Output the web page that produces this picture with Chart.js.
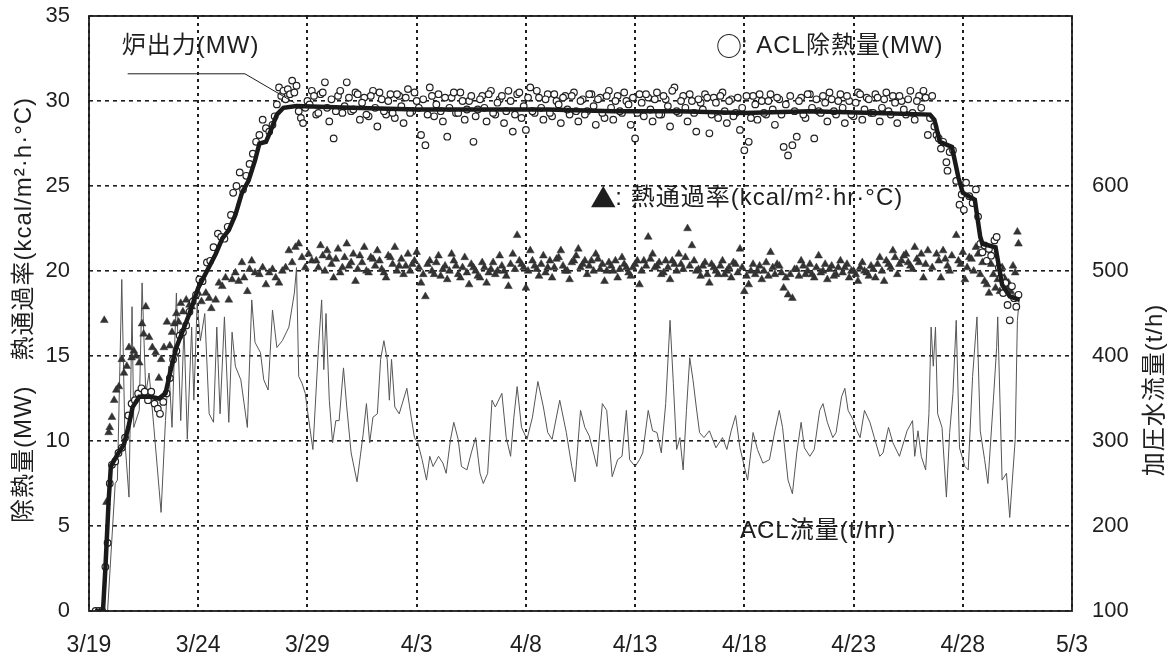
<!DOCTYPE html>
<html>
<head>
<meta charset="utf-8">
<script src="https://cdn.jsdelivr.net/npm/chart.js@4.4.1/dist/chart.umd.min.js"></script>
<style>
  html, body { margin: 0; background: #fff; }
</style>
</head>
<body>
<canvas id="chart" width="1175" height="662"></canvas>
<script>
// x = days since 3/19
const dateLabels = ['3/19', '3/24', '3/29', '4/3', '4/8', '4/13', '4/18', '4/23', '4/28', '5/3'];
const flowTickLabels = [100, 200, 300, 400, 500, 600];

// 炉出力 (MW)
const reactorPower = [
  [0.3, 0], [0.64, 0], [0.75, 2.5], [0.9, 6.5], [1.0, 8.5], [1.3, 9.2], [1.6, 9.8], [1.8, 10.8],
  [2.0, 12.0], [2.3, 12.6], [2.8, 12.6], [3.2, 12.5], [3.5, 12.8], [3.8, 14.5], [4.0, 15.5],
  [4.3, 16.5], [4.6, 17.5], [5.0, 19.0], [5.4, 20.0], [5.8, 21.0], [6.1, 21.9], [6.4, 22.4],
  [6.7, 23.3], [7.0, 24.6], [7.3, 25.3], [7.6, 26.5], [7.8, 27.5], [8.1, 27.6], [8.3, 28.2],
  [8.6, 29.2], [8.9, 29.6], [9.5, 29.7], [12, 29.6], [15, 29.5], [18, 29.5], [21, 29.5],
  [24, 29.4], [27, 29.4], [30, 29.3], [33, 29.4], [36, 29.3], [38.5, 29.2], [38.7, 28.9],
  [38.95, 27.6], [39.5, 27.3], [39.8, 25.5], [40.0, 24.6], [40.55, 24.2], [40.8, 22.0],
  [40.9, 21.6], [41.5, 21.4], [41.8, 19.2], [42.15, 18.5], [42.6, 18.3]
];

// ACL除熱量 (MW)
const aclHeat = [
  [0.3, 0], [0.45, 0], [0.6, 0], [0.75, 2.6], [0.85, 4.0], [0.95, 7.5], [1.05, 8.6], [1.2, 8.8],
  [1.35, 9.3], [1.5, 9.6], [1.65, 10.2], [1.8, 11.5], [1.95, 12.2], [2.1, 12.4], [2.25, 12.8],
  [2.4, 13.1], [2.55, 12.9], [2.7, 12.4], [2.85, 12.9], [3.0, 12.2], [3.15, 11.9], [3.25, 11.6],
  [3.4, 12.3], [3.55, 12.8], [3.7, 13.7], [3.85, 14.8], [4.0, 15.3], [4.15, 16.2], [4.3, 16.4],
  [4.45, 16.8], [4.6, 17.6], [4.75, 18.2], [4.9, 18.6], [5.05, 19.5], [5.2, 19.4], [5.4, 20.5],
  [5.55, 20.6], [5.7, 21.4], [5.9, 22.2], [6.05, 22.0], [6.2, 21.9], [6.35, 22.6], [6.5, 23.3],
  [6.6, 24.6], [6.75, 25.0], [6.9, 25.8], [7.05, 24.8], [7.2, 25.6], [7.35, 26.3], [7.5, 26.9],
  [7.65, 27.6], [7.8, 28.0], [7.95, 28.9], [8.1, 28.4], [8.25, 28.2], [8.4, 28.6], [8.5, 29.1],
  [8.6, 29.8], [8.7, 30.8], [8.8, 30.3], [8.9, 30.6], [9.0, 30.1], [9.1, 30.7], [9.2, 30.4],
  [9.3, 31.2], [9.4, 30.5], [9.5, 30.9], [9.6, 29.4], [9.7, 29.0], [9.8, 28.7], [9.9, 29.6],
  [10.0, 30.0], [10.2, 30.6], [10.4, 29.2], [10.6, 30.4], [10.8, 31.1], [11.0, 28.8], [11.2, 27.8], [11.4, 30.3], [11.6, 29.3], [11.8, 31.1],
  [12.0, 29.4], [12.2, 30.5], [12.4, 28.9], [12.6, 30.2], [12.8, 29.1], [13.0, 30.6], [13.2, 28.5], [13.4, 30.1], [13.6, 29.2], [13.8, 30.4],
  [14.0, 29.0], [14.2, 30.3], [14.4, 28.7], [14.6, 30.7], [14.8, 29.4], [15.0, 30.0], [15.2, 28.0], [15.4, 27.4], [15.6, 30.8], [15.8, 29.1],
  [16.0, 30.4], [16.2, 28.8], [16.4, 27.9], [16.6, 30.2], [16.8, 29.3], [17.0, 30.5], [17.2, 28.9], [17.4, 30.0], [17.6, 27.6], [17.8, 29.5],
  [18.0, 30.3], [18.2, 28.8], [18.4, 30.6], [18.6, 29.2], [18.8, 30.1], [19.0, 28.7], [19.2, 30.6], [19.4, 28.2], [19.6, 30.4], [19.8, 29.0],
  [20.0, 28.3], [20.2, 30.8], [20.4, 29.3], [20.6, 30.2], [20.8, 28.9], [21.0, 30.4], [21.2, 29.1], [21.4, 30.0], [21.6, 28.7], [21.8, 30.3],
  [22.0, 29.2], [22.2, 30.5], [22.4, 28.8], [22.6, 30.1], [22.8, 29.4], [23.0, 30.4], [23.2, 28.6], [23.4, 30.2], [23.6, 29.0], [23.8, 30.6],
  [24.0, 28.9], [24.2, 30.3], [24.4, 29.3], [24.6, 30.0], [24.8, 28.6], [25.0, 27.8], [25.2, 30.4], [25.4, 29.1], [25.6, 30.2], [25.8, 28.8],
  [26.0, 30.5], [26.2, 29.2], [26.4, 30.1], [26.6, 28.5], [26.8, 30.8], [27.0, 29.3], [27.2, 30.3], [27.4, 28.8], [27.6, 30.0], [27.8, 28.2],
  [28.0, 29.9], [28.2, 30.4], [28.4, 28.1], [28.6, 30.2], [28.8, 29.0], [29.0, 30.5], [29.2, 28.7], [29.4, 30.1], [29.6, 29.3], [29.8, 28.3],
  [30.0, 27.1], [30.2, 27.6], [30.4, 30.3], [30.6, 28.9], [30.8, 30.0], [31.0, 29.2], [31.2, 30.4], [31.4, 28.6], [31.6, 30.1], [31.8, 27.3],
  [32.0, 26.8], [32.2, 27.4], [32.4, 27.9], [32.6, 30.2], [32.8, 29.0], [33.0, 30.4], [33.2, 27.8], [33.4, 29.4], [33.6, 30.3], [33.8, 28.8],
  [34.0, 30.1], [34.2, 29.2], [34.4, 30.4], [34.6, 28.7], [34.8, 30.0], [35.0, 29.1], [35.2, 30.5], [35.4, 28.9], [35.6, 30.2], [35.8, 29.3],
  [36.0, 30.4], [36.2, 28.8], [36.4, 30.1], [36.6, 29.4], [36.8, 30.3], [37.0, 28.7], [37.2, 30.0], [37.4, 29.2], [37.6, 30.6], [37.8, 28.9],
  [38.0, 30.3], [38.2, 30.6], [38.4, 28.0], [38.5, 29.0], [38.6, 30.3], [38.7, 28.5], [38.8, 28.0], [38.9, 27.8], [39.0, 27.2],
  [39.1, 27.6], [39.25, 26.4], [39.3, 25.9], [39.4, 27.0], [39.55, 27.1], [39.7, 25.3], [39.85, 23.9], [39.95, 24.5],
  [40.05, 23.6], [40.15, 25.2], [40.3, 24.4], [40.45, 24.0], [40.6, 24.8], [40.7, 23.2], [40.8, 21.6], [40.9, 21.1],
  [41.0, 21.5], [41.1, 20.6], [41.2, 21.3], [41.3, 20.9], [41.45, 21.8], [41.55, 22.0], [41.65, 20.2], [41.75, 19.6],
  [41.85, 18.7], [41.95, 19.3], [42.05, 18.0], [42.15, 17.1], [42.25, 19.1], [42.35, 18.4], [42.45, 17.9], [42.55, 18.6],
  // points lying close to the 炉出力 line
  [10.1, 29.8], [10.3, 30.3], [10.5, 29.3], [10.7, 30.5], [10.9, 29.6], [11.1, 30.1], [11.3, 29.4], [11.5, 30.6], [11.7, 29.7], [11.9, 30.2],
  [12.1, 29.5], [12.3, 30.4], [12.5, 29.9], [12.7, 29.2], [12.9, 30.3], [13.1, 29.6], [13.3, 30.5], [13.5, 29.4], [13.7, 30.0], [13.9, 29.3],
  [14.1, 30.4], [14.3, 29.7], [14.5, 30.2], [14.7, 29.3], [14.9, 30.5], [15.1, 29.6], [15.3, 30.1], [15.5, 29.2], [15.7, 30.3], [15.9, 29.8],
  [16.1, 29.4], [16.3, 30.2], [16.5, 29.6], [16.7, 30.5], [16.9, 29.3], [17.1, 30.0], [17.3, 29.5], [17.5, 30.3], [17.7, 29.1], [17.9, 30.1],
  [18.1, 29.6], [18.3, 30.4], [18.5, 29.3], [18.7, 29.9], [18.9, 30.3], [19.1, 29.4], [19.3, 30.0], [19.5, 29.2], [19.7, 30.5], [19.9, 29.7],
  [20.1, 30.2], [20.3, 29.4], [20.5, 30.6], [20.7, 29.6], [20.9, 30.1], [21.1, 29.3], [21.3, 30.4], [21.5, 29.8], [21.7, 30.2], [21.9, 29.5],
  [22.1, 30.3], [22.3, 29.4], [22.5, 30.0], [22.7, 29.2], [22.9, 30.4], [23.1, 29.7], [23.3, 30.1], [23.5, 29.3], [23.7, 30.3], [23.9, 29.6],
  [24.1, 30.0], [24.3, 29.4], [24.5, 30.5], [24.7, 29.8], [24.9, 30.2], [25.1, 29.3], [25.3, 29.9], [25.5, 30.4], [25.7, 29.5], [25.9, 30.1],
  [26.1, 29.2], [26.3, 30.3], [26.5, 29.7], [26.7, 30.6], [26.9, 29.4], [27.1, 30.0], [27.3, 29.6], [27.5, 30.4], [27.7, 29.3], [27.9, 30.1],
  [28.1, 29.5], [28.3, 30.2], [28.5, 29.2], [28.7, 29.9], [28.9, 30.3], [29.1, 29.4], [29.3, 30.0], [29.5, 29.1], [29.7, 30.2], [29.9, 29.6],
  [30.1, 30.3], [30.3, 29.0], [30.5, 29.8], [30.7, 30.4], [30.9, 29.3], [31.1, 30.0], [31.3, 29.5], [31.5, 30.2], [31.7, 29.2], [31.9, 29.8],
  [32.1, 30.3], [32.3, 29.4], [32.5, 30.0], [32.7, 29.2], [32.9, 30.4], [33.1, 29.6], [33.3, 30.1], [33.5, 29.3], [33.7, 29.9], [33.9, 30.5],
  [34.1, 29.4], [34.3, 30.0], [34.5, 29.6], [34.7, 30.3], [34.9, 29.2], [35.1, 29.9], [35.3, 30.4], [35.5, 29.5], [35.7, 30.1], [35.9, 29.3],
  [36.1, 30.2], [36.3, 29.6], [36.5, 30.5], [36.7, 29.2], [36.9, 29.9], [37.1, 30.3], [37.3, 29.5], [37.5, 30.1], [37.7, 29.3], [37.9, 30.0],
  [38.1, 29.6], [38.3, 30.2]
];

// 熱通過率 (kcal/m²·hr·°C)
const heatTransfer = [
  [0.7, 17.1], [0.8, 6.4], [0.9, 10.5], [0.95, 10.8], [1.05, 11.4], [1.15, 12.4], [1.25, 13.0], [1.37, 13.2],
  [1.5, 14.8], [1.6, 14.0], [1.73, 14.4], [1.83, 15.5], [1.95, 14.9], [2.05, 15.3], [2.15, 15.0], [2.3, 14.6],
  [2.43, 16.9], [2.5, 16.3], [2.6, 17.9], [2.75, 16.1], [2.9, 15.5], [3.05, 15.2], [3.2, 13.7], [3.3, 14.8],
  [3.43, 15.5], [3.57, 17.0], [3.7, 15.6], [3.8, 16.4], [3.9, 16.9], [4.0, 17.5], [4.1, 17.0], [4.2, 18.1],
  [4.3, 17.6], [4.45, 18.3], [4.6, 18.0], [4.7, 17.9], [4.85, 18.5], [5.0, 18.7], [5.15, 18.2], [5.35, 18.7],
  [5.5, 18.4], [5.6, 17.8], [5.8, 18.3], [5.95, 19.3], [6.1, 19.1], [6.25, 19.6], [6.4, 18.3], [6.55, 19.5],
  [6.7, 19.9], [6.85, 19.4], [7.0, 20.5], [7.1, 19.6], [7.25, 18.8], [7.35, 20.1], [7.45, 20.6], [7.6, 19.9],
  [7.8, 19.8], [7.95, 20.2], [8.1, 19.2], [8.25, 19.9], [8.4, 20.1], [8.55, 19.6], [8.7, 19.3], [8.85, 20.0],
  [9.0, 20.2], [9.15, 21.2], [9.3, 20.5], [9.45, 21.4], [9.6, 21.6], [9.75, 20.8], [9.9, 20.2], [10.05, 21.0], [10.2, 20.6],
  [10.4, 20.6], [10.6, 21.5], [10.8, 20.0], [11.0, 20.8], [11.2, 19.6], [11.4, 21.3], [11.6, 20.2], [11.8, 21.6], [12.0, 20.5], [12.2, 19.4],
  [12.4, 20.9], [12.6, 21.4], [12.8, 19.9], [13.0, 20.7], [13.2, 21.2], [13.4, 20.1], [13.6, 19.6], [13.8, 20.8], [14.0, 21.4], [14.2, 20.3],
  [14.4, 19.8], [14.6, 21.0], [14.8, 20.4], [15.0, 21.1], [15.2, 19.3], [15.4, 18.5], [15.6, 20.6], [15.8, 19.8], [16.0, 20.9], [16.2, 20.1],
  [16.4, 19.5], [16.6, 21.0], [16.8, 20.3], [17.0, 19.6], [17.2, 20.8], [17.4, 19.2], [17.6, 20.2], [17.8, 19.7], [18.0, 20.5], [18.2, 19.3],
  [18.4, 20.1], [18.6, 19.8], [18.8, 20.9], [19.0, 20.0], [19.2, 19.1], [19.4, 21.0], [19.6, 22.1], [19.8, 20.4], [20.0, 19.0], [20.2, 21.2],
  [20.4, 20.3], [20.6, 19.7], [20.8, 20.9], [21.0, 20.2], [21.2, 19.6], [21.4, 20.7], [21.6, 21.2], [21.8, 20.0], [22.0, 19.5], [22.2, 20.6],
  [22.4, 21.3], [22.6, 20.4], [22.8, 19.8], [23.0, 20.6], [23.2, 21.0], [23.4, 20.1], [23.6, 19.4], [23.8, 20.5], [24.0, 20.0], [24.2, 19.6],
  [24.4, 20.8], [24.6, 20.2], [24.8, 19.7], [25.0, 20.4], [25.2, 19.2], [25.4, 20.6], [25.6, 22.0], [25.8, 21.0], [26.0, 20.3], [26.2, 19.8],
  [26.4, 20.6], [26.6, 19.5], [26.8, 20.4], [27.0, 21.0], [27.2, 20.1], [27.4, 22.5], [27.6, 21.5], [27.8, 20.0], [28.0, 19.7], [28.2, 20.5],
  [28.4, 19.3], [28.6, 20.2], [28.8, 19.8], [29.0, 20.6], [29.2, 20.0], [29.4, 19.6], [29.6, 20.4], [29.8, 21.3], [30.0, 18.8], [30.2, 19.2],
  [30.4, 20.4], [30.6, 20.0], [30.8, 19.5], [31.0, 20.5], [31.2, 21.1], [31.4, 19.8], [31.6, 20.3], [31.8, 19.0], [32.0, 18.6], [32.2, 18.4],
  [32.4, 20.1], [32.6, 20.6], [32.8, 19.8], [33.0, 20.4], [33.2, 19.6], [33.4, 20.9], [33.6, 20.0], [33.8, 19.5], [34.0, 20.3], [34.2, 19.8],
  [34.4, 20.6], [34.6, 20.2], [34.8, 19.6], [35.0, 20.0], [35.2, 19.4], [35.4, 20.5], [35.6, 19.9], [35.8, 20.3], [36.0, 19.6], [36.2, 20.8],
  [36.4, 19.4], [36.6, 20.4], [36.8, 21.2], [37.0, 19.8], [37.2, 20.6], [37.4, 21.0], [37.6, 20.3], [37.8, 21.4], [38.0, 20.5], [38.2, 19.6],
  [38.4, 21.2], [38.6, 20.2], [38.8, 21.0], [39.0, 19.6], [39.2, 20.7], [39.4, 20.0], [39.7, 22.1], [39.9, 20.4], [40.1, 19.5], [40.3, 20.8],
  [40.5, 20.0], [40.7, 21.0], [40.9, 20.5], [41.0, 19.4], [41.2, 18.7], [41.4, 19.8], [41.6, 19.5], [41.8, 20.2], [42.0, 19.0], [42.2, 18.8],
  [42.4, 19.9], [42.5, 22.3], [42.55, 21.6],
  // denser core of the band
  [10.5, 20.2], [10.7, 20.9], [10.9, 21.2], [11.1, 20.4], [11.3, 20.7], [11.5, 19.9], [11.7, 20.8], [11.9, 20.3], [12.1, 21.0], [12.3, 20.1],
  [12.5, 20.5], [12.7, 20.0], [12.9, 20.8], [13.1, 20.3], [13.3, 20.6], [13.5, 19.9], [13.7, 20.9], [13.9, 20.4], [14.1, 20.0], [14.3, 20.7],
  [14.5, 20.3], [14.7, 20.0], [14.9, 20.6], [15.1, 20.2], [15.3, 19.8], [15.5, 20.4], [15.7, 20.0], [15.9, 20.5], [16.1, 19.7], [16.3, 20.3],
  [16.5, 20.0], [16.7, 20.6], [16.9, 19.8], [17.1, 20.2], [17.3, 19.9], [17.5, 20.4], [17.7, 20.0], [17.9, 19.6], [18.1, 20.2], [18.3, 19.9],
  [18.5, 20.5], [18.7, 20.0], [18.9, 20.3], [19.1, 19.7], [19.3, 20.4], [19.5, 20.1], [19.7, 20.6], [19.9, 20.2], [20.1, 20.0], [20.3, 20.6],
  [20.5, 20.1], [20.7, 20.4], [20.9, 19.9], [21.1, 20.6], [21.3, 20.2], [21.5, 20.8], [21.7, 20.3], [21.9, 20.0], [22.1, 20.5], [22.3, 20.9],
  [22.5, 20.2], [22.7, 20.6], [22.9, 20.3], [23.1, 20.0], [23.3, 20.7], [23.5, 20.4], [23.7, 20.0], [23.9, 20.3], [24.1, 20.6], [24.3, 20.1],
  [24.5, 20.4], [24.7, 19.9], [24.9, 20.2], [25.1, 20.6], [25.3, 20.0], [25.5, 20.3], [25.7, 20.7], [25.9, 20.2], [26.1, 20.5], [26.3, 19.9],
  [26.5, 20.2], [26.7, 20.6], [26.9, 20.0], [27.1, 20.4], [27.3, 20.8], [27.5, 20.3], [27.7, 20.6], [27.9, 20.1], [28.1, 20.3], [28.3, 19.8],
  [28.5, 20.4], [28.7, 20.0], [28.9, 20.3], [29.1, 19.8], [29.3, 20.2], [29.5, 20.5], [29.7, 19.9], [29.9, 20.2], [30.1, 19.7], [30.3, 20.0],
  [30.5, 19.8], [30.7, 20.3], [30.9, 20.0], [31.1, 19.7], [31.3, 20.2], [31.5, 20.4], [31.7, 19.9], [31.9, 19.6], [32.1, 19.8], [32.3, 20.1],
  [32.5, 19.7], [32.7, 20.3], [32.9, 20.0], [33.1, 19.8], [33.3, 20.2], [33.5, 19.9], [33.7, 20.4], [33.9, 20.1], [34.1, 19.7], [34.3, 20.2],
  [34.5, 19.9], [34.7, 20.4], [34.9, 20.0], [35.1, 19.8], [35.3, 20.2], [35.5, 20.0], [35.7, 19.7], [35.9, 20.1], [36.1, 20.4], [36.3, 20.0],
  [36.5, 20.6], [36.7, 20.2], [36.9, 20.8], [37.1, 20.4], [37.3, 20.9], [37.5, 20.5], [37.7, 20.1], [37.9, 20.7], [38.1, 21.0], [38.3, 20.4],
  [38.9, 20.6], [39.1, 21.2], [39.3, 20.3], [39.5, 20.9], [39.8, 20.6], [40.0, 21.1], [40.2, 20.2], [40.4, 20.7], [40.6, 21.4], [40.8, 19.8],
  [41.1, 19.2], [41.3, 20.4], [41.5, 19.0], [41.7, 18.8], [41.9, 19.6], [42.1, 19.3], [42.3, 20.3]
];

// ACL流量 (t/hr), right axis
const aclFlow = [
  [0.85, 100], [1.2, 250], [1.3, 254], [1.5, 490], [1.65, 298], [1.83, 234], [1.97, 458], [2.05, 316],
  [2.3, 336], [2.43, 486], [2.6, 356], [2.75, 380], [2.97, 316], [3.3, 216], [3.5, 324], [3.65, 388],
  [3.8, 316], [4.0, 474], [4.2, 324], [4.35, 434], [4.5, 302], [4.7, 434], [4.8, 348], [4.95, 462],
  [5.1, 418], [5.3, 450], [5.5, 332], [5.7, 322], [5.85, 434], [6.0, 332], [6.2, 446], [6.4, 322],
  [6.55, 428], [6.7, 388], [6.95, 372], [7.25, 316], [7.45, 466], [7.6, 416], [7.85, 404], [8.0, 372],
  [8.2, 360], [8.4, 454], [8.6, 410], [8.85, 418], [9.15, 434], [9.4, 474], [9.5, 504], [9.6, 376],
  [9.75, 368], [9.9, 356], [10.0, 336], [10.25, 290], [10.5, 408], [10.65, 466], [10.75, 384], [10.85, 450],
  [11.0, 348], [11.15, 298], [11.3, 324], [11.45, 324], [11.65, 386], [11.8, 340], [12.0, 286], [12.27, 252],
  [12.55, 308], [12.7, 344], [12.85, 298], [13.0, 328], [13.2, 332], [13.35, 396], [13.5, 418], [13.65, 396],
  [13.75, 348], [13.85, 396], [14.0, 340], [14.2, 332], [14.55, 362], [14.75, 328], [14.9, 304], [15.05, 298],
  [15.25, 278], [15.45, 254], [15.6, 282], [15.75, 270], [16.0, 282], [16.2, 274], [16.35, 262], [16.55, 302],
  [16.7, 322], [16.9, 302], [17.05, 270], [17.3, 266], [17.5, 286], [17.7, 304], [17.9, 262], [18.05, 250],
  [18.25, 262], [18.45, 348], [18.6, 340], [18.9, 356], [19.1, 304], [19.3, 282], [19.45, 328], [19.6, 364],
  [19.8, 316], [20.05, 302], [20.3, 328], [20.55, 370], [20.8, 340], [21.0, 310], [21.2, 302], [21.55, 348],
  [21.85, 310], [22.1, 270], [22.25, 252], [22.5, 336], [22.7, 316], [22.9, 306], [23.25, 270], [23.5, 344],
  [23.7, 336], [23.95, 258], [24.2, 278], [24.4, 282], [24.6, 336], [24.75, 278], [25.0, 270], [25.2, 278],
  [25.35, 286], [25.6, 336], [25.8, 312], [26.0, 310], [26.2, 286], [26.4, 344], [26.6, 442], [26.75, 368],
  [26.9, 290], [27.05, 304], [27.2, 266], [27.35, 336], [27.5, 398], [27.65, 372], [27.8, 340], [27.95, 310],
  [28.15, 304], [28.4, 312], [28.7, 292], [29.0, 304], [29.2, 290], [29.4, 312], [29.6, 330], [29.8, 292],
  [30.0, 270], [30.15, 254], [30.4, 310], [30.6, 290], [30.85, 274], [31.15, 278], [31.4, 312], [31.6, 336],
  [31.75, 316], [32.0, 254], [32.2, 238], [32.4, 286], [32.6, 322], [32.75, 292], [33.0, 282], [33.2, 290],
  [33.45, 336], [33.6, 344], [33.8, 322], [34.05, 304], [34.2, 310], [34.45, 352], [34.6, 362], [34.75, 336],
  [35.0, 324], [35.15, 312], [35.3, 304], [35.5, 336], [35.75, 322], [35.95, 304], [36.2, 282], [36.35, 286],
  [36.6, 316], [36.8, 298], [37.1, 282], [37.45, 312], [37.7, 324], [37.8, 282], [37.95, 312], [38.1, 282],
  [38.3, 266], [38.45, 332], [38.55, 434], [38.65, 388], [38.75, 434], [38.85, 332], [39.05, 316], [39.25, 234],
  [39.4, 310], [39.55, 356], [39.7, 442], [39.85, 292], [40.1, 270], [40.25, 266], [40.45, 376], [40.65, 446],
  [40.8, 312], [41.0, 278], [41.15, 250], [41.4, 348], [41.55, 410], [41.6, 446], [41.8, 254], [42.0, 262],
  [42.15, 210], [42.4, 302], [42.5, 442], [42.6, 470]
];

const toXY = arr => arr.map(([x, y]) => ({ x, y }));

const jpFont = '"Liberation Sans", "Noto Sans CJK JP", sans-serif';
const symFont = '"Noto Sans CJK JP", sans-serif';
const ink = '#1e1e1e';

// keep the plot box where the original has it
const fitVertical = width => s => {
  s.width = width;
  s.paddingTop = 0;
  s.paddingBottom = 0;
};

// marker glyph drawn larger, then the rest of the label
function symbolLabel(ctx, sym, text, x, y) {
  ctx.font = '26px ' + symFont;
  ctx.fillText(sym, x, y);
  const w = ctx.measureText(sym).width;
  ctx.font = '24px ' + jpFont;
  ctx.fillText(text, x + w - 2, y);
}

const overlay = {
  id: 'overlay',
  afterDatasetsDraw(chart) {
    const { ctx, chartArea: a, scales } = chart;
    const px = v => scales.x.getPixelForValue(v);
    const py = v => scales.y.getPixelForValue(v);
    ctx.save();
    // frame
    ctx.strokeStyle = ink;
    ctx.lineWidth = 1.8;
    ctx.setLineDash([]);
    ctx.strokeRect(a.left, a.top, a.right - a.left, a.bottom - a.top);

    // in-plot labels
    ctx.fillStyle = ink;
    ctx.font = '24px ' + jpFont;
    ctx.letterSpacing = '1px';
    ctx.textBaseline = 'middle';
    ctx.textAlign = 'left';
    ctx.fillText('炉出力(MW)', px(1.5), py(33.2));
    symbolLabel(ctx, '○', ': ACL除熱量(MW)', px(28.7), py(33.2));
    symbolLabel(ctx, '▲', ': 熱通過率(kcal/m²·hr·°C)', px(22.95), py(24.3));
    ctx.font = '24px ' + jpFont;
    ctx.fillText('ACL流量(t/hr)', px(29.8), py(4.7));

    // leader line for 炉出力
    ctx.lineWidth = 1;
    ctx.beginPath();
    ctx.moveTo(px(1.77), py(31.6));
    ctx.lineTo(px(7.14), py(31.6));
    ctx.lineTo(px(9.4), py(29.9));
    ctx.stroke();

    // axis titles
    ctx.textAlign = 'center';
    ctx.save();
    ctx.translate(24, 310);
    ctx.rotate(-Math.PI / 2);
    ctx.fillText('除熱量(MW)　熱通過率(kcal/m²·h·°C)', 0, 0);
    ctx.restore();
    ctx.save();
    ctx.translate(1155, 390);
    ctx.rotate(-Math.PI / 2);
    ctx.fillText('加圧水流量(t/h)', 0, 0);
    ctx.restore();
    ctx.restore();
  }
};

new Chart(document.getElementById('chart'), {
  type: 'scatter',
  data: {
    datasets: [
      {
        type: 'line',
        label: 'ACL流量',
        data: toXY(aclFlow),
        yAxisID: 'y2',
        borderColor: '#555',
        borderWidth: 1,
        pointRadius: 0,
        tension: 0,
        order: 4
      },
      {
        label: '熱通過率',
        data: toXY(heatTransfer),
        pointStyle: 'triangle',
        pointRadius: 4.5,
        backgroundColor: '#333',
        borderColor: '#333',
        borderWidth: 0.5,
        order: 3
      },
      {
        label: 'ACL除熱量',
        data: toXY(aclHeat),
        pointStyle: 'circle',
        pointRadius: 3.3,
        backgroundColor: '#fff',
        borderColor: '#222',
        borderWidth: 1.2,
        order: 2
      },
      {
        type: 'line',
        label: '炉出力',
        data: toXY(reactorPower),
        borderColor: '#1a1a1a',
        borderWidth: 4.5,
        pointRadius: 0,
        tension: 0,
        order: 1
      }
    ]
  },
  options: {
    responsive: false,
    animation: false,
    layout: { padding: { top: 16 } },
    plugins: { legend: { display: false }, tooltip: { enabled: false } },
    scales: {
      x: {
        type: 'linear',
        min: 0,
        max: 45,
        afterFit: s => { s.height = 51; },
        ticks: {
          stepSize: 5,
          padding: 21,
          color: ink,
          font: { size: 23, family: jpFont },
          callback: v => dateLabels[Math.round(v / 5)] || ''
        },
        grid: { color: ink, lineWidth: 2, drawTicks: false },
        border: { display: false, dash: [3, 4] }
      },
      y: {
        min: 0,
        max: 35,
        afterFit: fitVertical(89),
        ticks: {
          stepSize: 5,
          padding: 19,
          color: ink,
          font: { size: 22, family: jpFont }
        },
        grid: { color: ink, lineWidth: 1.6, drawTicks: false },
        border: { display: false, dash: [4, 4] }
      },
      y2: {
        position: 'right',
        min: 100,
        max: 800,
        afterFit: fitVertical(103),
        ticks: {
          stepSize: 100,
          padding: 20,
          color: ink,
          font: { size: 22, family: jpFont },
          callback: v => flowTickLabels.includes(v) ? String(v) : ''
        },
        grid: { display: false, drawTicks: false },
        border: { display: false }
      }
    }
  },
  plugins: [overlay]
});
</script>
</body>
</html>
